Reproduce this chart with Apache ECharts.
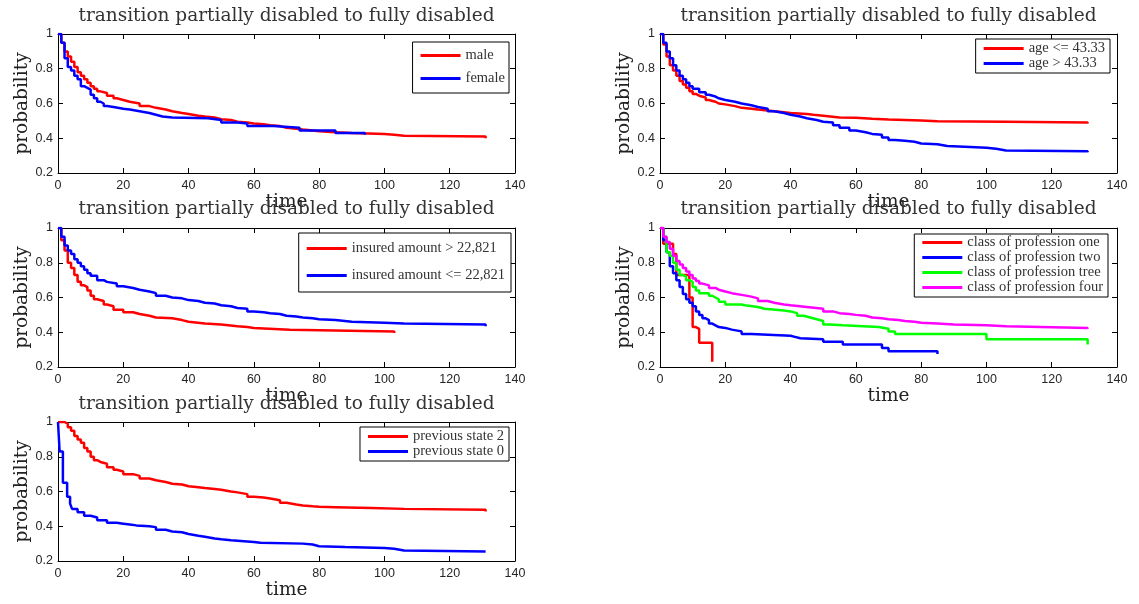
<!DOCTYPE html>
<html>
<head>
<meta charset="utf-8">
<script src="https://cdn.jsdelivr.net/npm/echarts@6/dist/echarts.min.js"></script>
<style>
html,body{margin:0;padding:0;background:#fff;}
#c{width:1139px;height:604px;}
</style>
</head>
<body>
<div id="c"></div>
<script>
// ---- data (time, survival probability) ----
const titleText = 'transition partially disabled to fully disabled';
const xTicks = [0, 20, 40, 60, 80, 100, 120, 140];
const yTicks = [0.2, 0.4, 0.6, 0.8, 1];

const male = [[0,1],[1,0.95],[2,0.9],[3,0.87],[4,0.84],[5,0.81],[6,0.78],[7,0.76],[8,0.74],[9,0.72],[10,0.70],[11,0.685],[12,0.67],[13,0.66],[15,0.645],[17,0.63],[18,0.62],[20,0.61],[22,0.6],[25,0.585],[28,0.575],[30,0.565],[33,0.555],[35,0.545],[38,0.54],[40,0.53],[43,0.525],[45,0.52],[48,0.51],[50,0.505],[53,0.495],[55,0.49],[58,0.485],[60,0.48],[63,0.475],[65,0.47],[68,0.46],[70,0.455],[73,0.45],[75,0.445],[78,0.44],[80,0.435],[85,0.43],[90,0.425],[100,0.42],[103,0.415],[106,0.41],[131,0.40]];
const female = [[0,1],[1,0.95],[2,0.86],[3,0.81],[4,0.79],[5,0.76],[6,0.74],[7,0.70],[8,0.69],[9,0.68],[10,0.65],[11,0.63],[12,0.61],[13,0.60],[14,0.585],[15,0.58],[17,0.57],[20,0.565],[22,0.555],[25,0.545],[28,0.535],[30,0.525],[32,0.52],[35,0.515],[46,0.505],[50,0.49],[55,0.485],[58,0.47],[66,0.46],[74,0.445],[85,0.43],[94,0.42]];

const ageLow = [[0,1],[1,0.94],[2,0.87],[3,0.82],[4,0.79],[5,0.76],[6,0.73],[7,0.71],[8,0.69],[9,0.67],[10,0.655],[11,0.645],[12,0.635],[14,0.62],[15,0.61],[17,0.6],[18,0.595],[20,0.585],[23,0.575],[25,0.57],[28,0.565],[30,0.56],[33,0.555],[35,0.55],[38,0.545],[40,0.54],[45,0.535],[47,0.53],[50,0.52],[55,0.518],[60,0.512],[65,0.508],[70,0.505],[75,0.502],[80,0.498],[85,0.495],[106,0.49],[131,0.485]];
const ageHigh = [[0,1],[1,0.95],[2,0.9],[3,0.86],[4,0.82],[5,0.79],[6,0.76],[7,0.74],[8,0.72],[9,0.70],[10,0.685],[12,0.665],[14,0.65],[15,0.64],[17,0.63],[18,0.62],[20,0.61],[23,0.6],[25,0.59],[28,0.58],[30,0.57],[33,0.555],[35,0.545],[38,0.535],[40,0.525],[43,0.515],[45,0.505],[48,0.495],[50,0.49],[53,0.475],[55,0.46],[58,0.445],[60,0.435],[63,0.425],[65,0.42],[68,0.405],[70,0.39],[72,0.385],[75,0.38],[78,0.37],[80,0.365],[85,0.355],[88,0.35],[95,0.345],[100,0.34],[103,0.33],[106,0.325],[131,0.32]];

const insHigh = [[0,1],[1,0.93],[2,0.87],[3,0.8],[4,0.77],[5,0.73],[6,0.69],[7,0.67],[8,0.66],[9,0.64],[10,0.61],[11,0.59],[12,0.58],[14,0.56],[15,0.55],[17,0.53],[20,0.515],[23,0.505],[25,0.495],[28,0.485],[30,0.48],[35,0.47],[38,0.46],[40,0.45],[45,0.445],[50,0.435],[55,0.43],[58,0.425],[60,0.415],[71,0.405],[103,0.395]];
const insLow = [[0,1],[1,0.95],[2,0.9],[3,0.87],[4,0.85],[5,0.82],[6,0.80],[7,0.78],[8,0.76],[9,0.74],[10,0.725],[12,0.70],[14,0.69],[15,0.68],[18,0.665],[20,0.655],[23,0.645],[25,0.635],[28,0.625],[30,0.61],[33,0.6],[35,0.595],[38,0.585],[40,0.58],[43,0.57],[45,0.565],[48,0.555],[50,0.55],[53,0.54],[55,0.535],[58,0.52],[60,0.515],[63,0.51],[65,0.505],[68,0.495],[70,0.49],[73,0.485],[75,0.48],[78,0.475],[80,0.47],[85,0.46],[90,0.455],[100,0.45],[106,0.445],[131,0.435]];

const profOne = [[0,1],[1,0.91],[4,0.85],[5,0.73],[9,0.6],[10,0.43],[11,0.42],[12,0.34],[16,0.23]];
const profTwo = [[0,1],[1,0.93],[2,0.86],[3,0.78],[4,0.74],[5,0.7],[6,0.66],[7,0.62],[8,0.59],[9,0.57],[10,0.55],[11,0.52],[12,0.5],[13,0.48],[14,0.47],[15,0.45],[16,0.44],[17,0.43],[18,0.425],[20,0.415],[22,0.405],[25,0.39],[28,0.38],[40,0.375],[41,0.365],[43,0.36],[50,0.345],[56,0.33],[68,0.31],[70,0.29],[85,0.275]];
const profTree = [[0,1],[1,0.95],[2,0.86],[3,0.84],[4,0.8],[5,0.76],[6,0.73],[7,0.72],[8,0.70],[9,0.69],[10,0.66],[11,0.64],[12,0.625],[15,0.61],[16,0.6],[17,0.59],[18,0.575],[20,0.56],[25,0.555],[26,0.545],[30,0.535],[32,0.525],[38,0.52],[40,0.51],[42,0.495],[44,0.485],[46,0.475],[48,0.465],[50,0.445],[52,0.44],[56,0.43],[67,0.42],[70,0.405],[72,0.39],[100,0.36],[131,0.33]];
const profFour = [[0,1],[1,0.95],[2,0.92],[3,0.88],[4,0.84],[5,0.81],[6,0.79],[7,0.77],[8,0.75],[9,0.73],[10,0.71],[11,0.695],[12,0.68],[13,0.67],[15,0.655],[17,0.645],[18,0.635],[20,0.625],[22,0.615],[25,0.605],[28,0.595],[30,0.58],[33,0.57],[35,0.56],[38,0.555],[40,0.545],[45,0.535],[50,0.52],[53,0.51],[55,0.505],[58,0.5],[60,0.495],[63,0.485],[65,0.48],[68,0.475],[70,0.47],[73,0.465],[75,0.46],[78,0.455],[80,0.45],[85,0.445],[90,0.44],[100,0.435],[106,0.425],[131,0.42]];

const prevTwo = [[0,1],[2,0.99],[3,0.97],[4,0.95],[5,0.92],[6,0.9],[7,0.88],[8,0.85],[9,0.83],[10,0.8],[11,0.78],[12,0.77],[13,0.76],[15,0.74],[17,0.725],[18,0.715],[20,0.70],[23,0.69],[25,0.675],[28,0.665],[30,0.655],[33,0.645],[35,0.64],[38,0.63],[40,0.625],[43,0.62],[45,0.615],[48,0.61],[50,0.6],[53,0.595],[55,0.585],[58,0.57],[60,0.565],[63,0.56],[65,0.55],[68,0.535],[70,0.525],[73,0.52],[75,0.515],[78,0.512],[80,0.51],[85,0.505],[96,0.5],[106,0.495],[131,0.485]];
const prevZero = [[0,1],[0.5,0.83],[1.5,0.65],[2.8,0.57],[3.7,0.53],[4.3,0.5],[6,0.48],[8,0.46],[10,0.45],[12,0.435],[15,0.42],[18,0.415],[20,0.41],[22,0.405],[24,0.40],[28,0.395],[30,0.38],[33,0.37],[35,0.365],[38,0.355],[40,0.345],[43,0.34],[45,0.33],[48,0.325],[50,0.32],[53,0.31],[60,0.305],[62,0.3],[75,0.295],[78,0.285],[80,0.28],[88,0.275],[100,0.27],[103,0.26],[106,0.255],[131,0.255]];

const panels = [
  {series: [['male', male, '#ff0000'], ['female', female, '#0000ff']]},
  {series: [['age <= 43.33', ageLow, '#ff0000'], ['age > 43.33', ageHigh, '#0000ff']]},
  {series: [['insured amount > 22,821', insHigh, '#ff0000'], ['insured amount <= 22,821', insLow, '#0000ff']]},
  {series: [['class of profession one', profOne, '#ff0000'], ['class of profession two', profTwo, '#0000ff'], ['class of profession tree', profTree, '#00ff00'], ['class of profession four', profFour, '#ff00ff']]},
  {series: [['previous state 2', prevTwo, '#ff0000'], ['previous state 0', prevZero, '#0000ff']]}
];

// ---- layout ----
const layout = [
  {left: 58, top: 34, titleTop: 7, legend: {right: 630, top: 42, gap: 8, pad: [6, 4, 7, 8]}},
  {left: 660, top: 34, titleTop: 7, legend: {right: 29, top: 39, gap: 0, pad: [2, 5, 2, 8]}},
  {left: 58, top: 228, titleTop: 200, legend: {right: 628, top: 233, gap: 12, pad: [8, 6, 9, 8]}},
  {left: 660, top: 228, titleTop: 200, legend: {right: 31, top: 234, gap: 0, pad: [1, 5, 2, 8]}},
  {left: 58, top: 422, titleTop: 395, legend: {right: 630, top: 427, gap: 0, pad: [2, 5, 2, 8]}}
];
const W = 457, H = 139;
const serifBig = '"DejaVu Serif", "Liberation Serif", serif';
const serif = '"Liberation Serif", "DejaVu Serif", serif';
const sans = '"Liberation Sans", Arial, sans-serif';

const option = {animation: false, backgroundColor: '#fff', title: [], grid: [], xAxis: [], yAxis: [], legend: [], series: []};

layout.forEach((L, i) => {
  option.grid.push({left: L.left, top: L.top, width: W, height: H, show: false});
  option.title.push({
    text: titleText, left: L.left + W / 2, top: L.titleTop, textAlign: 'center', padding: 0,
    textStyle: {fontFamily: serifBig, fontSize: 18.5, fontWeight: 'normal', color: '#333'}
  });
  const baseX = {
    gridIndex: i, type: 'value', min: xTicks[0], max: xTicks[xTicks.length - 1], interval: xTicks[1] - xTicks[0],
    splitLine: {show: false},
    axisLine: {show: true, onZero: false, lineStyle: {color: '#000', width: 1}},
    axisTick: {show: true, inside: true, length: 5, lineStyle: {color: '#000'}}
  };
  const baseY = {
    gridIndex: i, type: 'value', min: yTicks[0], max: yTicks[yTicks.length - 1], interval: 0.2,
    splitLine: {show: false},
    axisLine: {show: true, onZero: false, lineStyle: {color: '#000', width: 1}},
    axisTick: {show: true, inside: true, length: 5, lineStyle: {color: '#000'}}
  };
  option.xAxis.push(Object.assign({}, baseX, {
    position: 'bottom', name: 'time', nameLocation: 'middle', nameGap: 19,
    nameTextStyle: {fontFamily: serifBig, fontSize: 18.5, color: '#222'},
    axisLabel: {show: true, margin: 6, fontFamily: sans, fontSize: 12.5, color: '#262626'}
  }));
  option.xAxis.push(Object.assign({}, baseX, {position: 'top', axisLabel: {show: false}}));
  option.yAxis.push(Object.assign({}, baseY, {
    position: 'left', name: 'probability', nameLocation: 'middle', nameGap: 26, nameRotate: 90,
    nameTextStyle: {fontFamily: serifBig, fontSize: 18.5, color: '#222'},
    axisLabel: {show: true, margin: 5, fontFamily: sans, fontSize: 12.5, color: '#262626',
      formatter: v => String(Math.round(v * 10) / 10)}
  }));
  option.yAxis.push(Object.assign({}, baseY, {position: 'right', axisLabel: {show: false}}));

  const names = [];
  panels[i].series.forEach(([name, data, color]) => {
    names.push(name);
    option.series.push({
      name, type: 'line', step: 'end', data, xAxisIndex: 2 * i, yAxisIndex: 2 * i,
      showSymbol: false, symbol: 'none', color,
      lineStyle: {color, width: 2.5}, silent: true
    });
  });
  option.legend.push({
    data: names, orient: 'vertical', right: L.legend.right, top: L.legend.top,
    backgroundColor: '#fff', borderColor: '#000', borderWidth: 1, borderRadius: 0,
    padding: L.legend.pad, itemGap: L.legend.gap, itemWidth: 40, itemHeight: 3, icon: 'rect',
    selectedMode: false,
    textStyle: {fontFamily: serif, fontSize: 14.5, color: '#333', lineHeight: 15}
  });
});

const chart = echarts.init(document.getElementById('c'), null, {renderer: 'canvas'});
chart.setOption(option);
</script>
</body>
</html>
